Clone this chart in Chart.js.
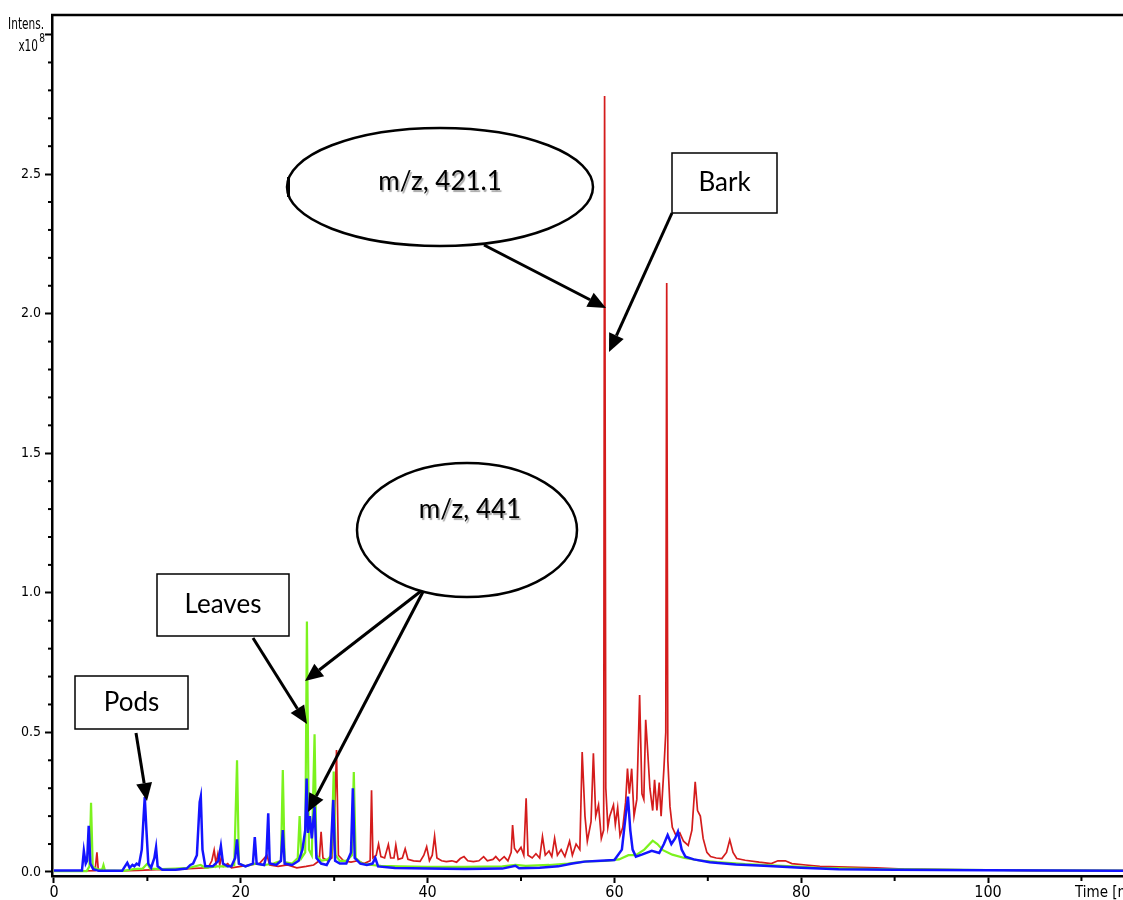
<!DOCTYPE html>
<html>
<head>
<meta charset="utf-8">
<title>Base peak chromatogram - bark, leaves, pods</title>
<script src="https://cdn.jsdelivr.net/npm/chart.js@4.4.1/dist/chart.umd.min.js"></script>
<style>
  html, body { margin: 0; padding: 0; background: #fff; }
  #wrap { width: 1123px; height: 900px; }
</style>
</head>
<body>
<div id="wrap"><canvas id="chrom" width="1123" height="900"></canvas></div>
<script>
// axis ranges: time in min, intensity in x10^8
const xRange = [-0.21, 114.45];
const yRange = [-0.0145, 3.07];
const xTickValues = [0, 10, 20, 30, 40, 50, 60, 70, 80, 90, 100, 110];
const xTickLabels = ["0", "", "20", "", "40", "", "60", "", "80", "", "100", ""];
const yTickLabels = ["0.0", "0.5", "1.0", "1.5", "2.0", "2.5"];

// [time, intensity]
const barkPoints = [
  [0, 0.004], [3.0, 0.004], [4.4, 0.005], [4.6, 0.07], [4.75, 0.005], [7.0, 0.004],
  [9.0, 0.006], [11.0, 0.008], [13.0, 0.008], [14.5, 0.012], [16.5, 0.015],
  [16.9, 0.04], [17.15, 0.078], [17.35, 0.03], [17.55, 0.065], [17.75, 0.025],
  [17.95, 0.06], [18.15, 0.02], [18.6, 0.03], [19.0, 0.015], [20.0, 0.02],
  [21.0, 0.025], [22.0, 0.03], [22.8, 0.06], [23.1, 0.025], [24.0, 0.02],
  [25.0, 0.025], [26.0, 0.015], [27.0, 0.02], [27.8, 0.025], [28.4, 0.04],
  [28.6, 0.144], [28.8, 0.05], [29.3, 0.04], [29.75, 0.05], [30.05, 0.2],
  [30.25, 0.437], [30.45, 0.06], [31.0, 0.04], [31.8, 0.035], [32.5, 0.04],
  [33.2, 0.03], [33.85, 0.04], [34.0, 0.293], [34.15, 0.05], [34.5, 0.06],
  [34.75, 0.1], [35.0, 0.055], [35.4, 0.05], [35.8, 0.098], [36.05, 0.05],
  [36.4, 0.05], [36.6, 0.096], [36.85, 0.045], [37.3, 0.05], [37.6, 0.083],
  [37.9, 0.045], [38.5, 0.04], [39.2, 0.038], [39.6, 0.06], [39.9, 0.09],
  [40.2, 0.04], [40.5, 0.06], [40.75, 0.128], [41.0, 0.05], [41.5, 0.04],
  [42.0, 0.037], [42.6, 0.04], [43.1, 0.035], [43.5, 0.048], [43.9, 0.055],
  [44.3, 0.04], [44.9, 0.037], [45.5, 0.04], [46.0, 0.055], [46.4, 0.04],
  [47.0, 0.045], [47.3, 0.055], [47.7, 0.04], [48.2, 0.055], [48.6, 0.04],
  [48.95, 0.07], [49.1, 0.168], [49.3, 0.085], [49.6, 0.07], [50.0, 0.088],
  [50.3, 0.06], [50.55, 0.264], [50.75, 0.06], [51.2, 0.05], [51.6, 0.065],
  [52.0, 0.05], [52.3, 0.127], [52.6, 0.06], [53.0, 0.075], [53.3, 0.055],
  [53.6, 0.12], [53.9, 0.06], [54.3, 0.08], [54.7, 0.055], [55.2, 0.11],
  [55.5, 0.06], [55.9, 0.1], [56.3, 0.08], [56.55, 0.43], [56.85, 0.2],
  [57.1, 0.11], [57.5, 0.18], [57.75, 0.425], [58.0, 0.2], [58.3, 0.24],
  [58.6, 0.12], [58.85, 0.15], [58.95, 2.78], [59.08, 0.3], [59.3, 0.16],
  [59.5, 0.2], [59.9, 0.24], [60.1, 0.17], [60.35, 0.23], [60.6, 0.13],
  [60.9, 0.16], [61.2, 0.25], [61.4, 0.37], [61.6, 0.28], [61.85, 0.37],
  [62.1, 0.2], [62.4, 0.26], [62.7, 0.634], [62.95, 0.28], [63.15, 0.26],
  [63.35, 0.545], [63.55, 0.44], [63.8, 0.3], [64.1, 0.22], [64.3, 0.33],
  [64.55, 0.22], [64.8, 0.32], [65.0, 0.2], [65.3, 0.37], [65.5, 0.5],
  [65.6, 2.11], [65.72, 0.4], [65.95, 0.234], [66.2, 0.16], [66.6, 0.13],
  [67.0, 0.14], [67.4, 0.11], [67.9, 0.095], [68.3, 0.15], [68.65, 0.323],
  [68.9, 0.22], [69.2, 0.2], [69.5, 0.12], [69.9, 0.07], [70.3, 0.055],
  [70.9, 0.05], [71.5, 0.048], [72.0, 0.07], [72.35, 0.115], [72.7, 0.07],
  [73.1, 0.048], [74.0, 0.042], [75.5, 0.035], [76.8, 0.03], [77.5, 0.04],
  [78.3, 0.04], [79.0, 0.03], [80.5, 0.025], [82.0, 0.02], [85.0, 0.017],
  [88.0, 0.015], [91.0, 0.01], [95.0, 0.008], [100, 0.007], [105, 0.005],
  [110, 0.005], [114.5, 0.005]
];

const leavesPoints = [
  [0, 0.003], [3.5, 0.003], [3.8, 0.02], [3.97, 0.248], [4.15, 0.02], [4.6, 0.01],
  [5.15, 0.008], [5.3, 0.025], [5.45, 0.006], [7.5, 0.004], [8.5, 0.01],
  [9.5, 0.012], [10.0, 0.03], [10.3, 0.012], [11.5, 0.01], [13.0, 0.012],
  [14.5, 0.015], [15.7, 0.025], [16.2, 0.015], [17.5, 0.02], [18.5, 0.02],
  [19.3, 0.025], [19.6, 0.40], [19.8, 0.03], [20.5, 0.02], [21.5, 0.03],
  [22.5, 0.025], [23.5, 0.03], [24.3, 0.04], [24.5, 0.365], [24.7, 0.035],
  [25.5, 0.03], [26.1, 0.05], [26.3, 0.2], [26.5, 0.05], [26.9, 0.07],
  [27.08, 0.897], [27.3, 0.08], [27.6, 0.06], [27.9, 0.493], [28.1, 0.06],
  [28.6, 0.04], [29.3, 0.045], [29.7, 0.06], [29.95, 0.36], [30.15, 0.06],
  [30.6, 0.04], [31.3, 0.04], [31.9, 0.06], [32.1, 0.358], [32.3, 0.05],
  [33.0, 0.03], [34.0, 0.025], [35.0, 0.022], [37.0, 0.02], [40.0, 0.018],
  [44.0, 0.018], [48.0, 0.02], [49.4, 0.025], [50.5, 0.022], [53.0, 0.025],
  [55.0, 0.03], [57.0, 0.038], [59.0, 0.04], [60.5, 0.045], [61.5, 0.06],
  [62.3, 0.06], [63.2, 0.08], [64.1, 0.112], [64.6, 0.1], [65.2, 0.078],
  [66.2, 0.062], [67.5, 0.05], [69.0, 0.042], [71.0, 0.035], [74.0, 0.028],
  [78.0, 0.022], [82.0, 0.015], [88.0, 0.01], [95.0, 0.008], [100, 0.007],
  [105, 0.006], [114.5, 0.005]
];

const podsPoints = [
  [0, 0.005], [3.0, 0.005], [3.2, 0.076], [3.4, 0.03], [3.55, 0.04], [3.72, 0.165],
  [3.9, 0.03], [4.2, 0.01], [4.8, 0.004], [7.3, 0.004], [7.6, 0.02], [7.85, 0.033],
  [8.1, 0.015], [8.4, 0.025], [8.6, 0.02], [8.85, 0.03], [9.1, 0.025], [9.4, 0.08],
  [9.6, 0.2], [9.72, 0.268], [9.9, 0.15], [10.1, 0.03], [10.4, 0.015],
  [10.75, 0.05], [10.93, 0.088], [11.1, 0.02], [11.6, 0.008], [13.0, 0.008],
  [14.2, 0.012], [14.6, 0.025], [14.9, 0.03], [15.3, 0.06], [15.6, 0.25],
  [15.72, 0.27], [15.9, 0.08], [16.2, 0.02], [17.0, 0.02], [17.6, 0.04],
  [17.87, 0.093], [18.1, 0.03], [18.6, 0.02], [19.0, 0.02], [19.4, 0.05],
  [19.6, 0.117], [19.8, 0.03], [20.5, 0.02], [21.3, 0.03], [21.5, 0.125],
  [21.7, 0.03], [22.5, 0.025], [22.75, 0.06], [22.94, 0.21], [23.1, 0.03],
  [23.8, 0.025], [24.3, 0.04], [24.5, 0.15], [24.7, 0.03], [25.5, 0.025],
  [26.2, 0.04], [26.6, 0.08], [26.9, 0.15], [27.05, 0.335], [27.2, 0.14],
  [27.4, 0.2], [27.6, 0.12], [27.9, 0.234], [28.1, 0.05], [28.6, 0.03],
  [29.2, 0.025], [29.6, 0.05], [29.9, 0.258], [30.1, 0.04], [30.6, 0.03],
  [31.3, 0.03], [31.8, 0.07], [32.0, 0.30], [32.2, 0.05], [32.8, 0.03],
  [33.5, 0.025], [34.1, 0.03], [34.4, 0.05], [34.7, 0.02], [36.5, 0.014],
  [40.0, 0.012], [44.0, 0.011], [48.0, 0.012], [49.4, 0.022], [49.8, 0.013],
  [52.0, 0.015], [54.0, 0.02], [55.5, 0.03], [56.8, 0.037], [58.5, 0.04],
  [60.0, 0.043], [60.8, 0.08], [61.2, 0.2], [61.45, 0.27], [61.7, 0.15],
  [61.95, 0.08], [62.3, 0.055], [63.0, 0.063], [64.0, 0.076], [64.8, 0.068],
  [65.3, 0.1], [65.7, 0.132], [66.1, 0.1], [66.5, 0.12], [66.8, 0.144],
  [67.2, 0.08], [67.6, 0.055], [68.5, 0.045], [70.2, 0.035], [73.0, 0.027],
  [76.0, 0.022], [80.0, 0.015], [84.0, 0.01], [90.0, 0.008], [100, 0.006],
  [114.5, 0.004]
];

const toXY = pts => pts.map(p => ({ x: p[0], y: p[1] }));
const isMajorY = v => Math.round(v * 10) % 5 === 0;
const isMajorX = v => Math.round(v) % 20 === 0;

// callouts drawn on top (pixel positions)
const ellipses = [
  { cx: 440, cy: 187, rx: 153, ry: 59, text: "m/z, 421.1", tx: 440, ty: 182 },
  { cx: 467, cy: 530, rx: 110, ry: 67, text: "m/z, 441", tx: 470, ty: 510 }
];
const boxes = [
  { x: 672, y: 153, w: 105, h: 60, text: "Bark" },
  { x: 157, y: 574, w: 132, h: 62, text: "Leaves" },
  { x: 75, y: 676, w: 113, h: 53, text: "Pods" }
];
const arrows = [
  [484, 245, 606, 308],
  [672, 213, 609, 352],
  [425, 588, 305, 681],
  [425, 588, 308, 812],
  [253, 638, 307, 724],
  [136, 733, 147, 801]
];

function drawArrow(ctx, x1, y1, x2, y2) {
  const a = Math.atan2(y2 - y1, x2 - x1);
  const len = 18, half = 8;
  const bx = x2 - len * Math.cos(a), by = y2 - len * Math.sin(a);
  ctx.beginPath();
  ctx.moveTo(x1, y1);
  ctx.lineTo(bx, by);
  ctx.stroke();
  ctx.beginPath();
  ctx.moveTo(x2, y2);
  ctx.lineTo(bx + half * Math.sin(a), by - half * Math.cos(a));
  ctx.lineTo(bx - half * Math.sin(a), by + half * Math.cos(a));
  ctx.closePath();
  ctx.fill();
}

const narrow = "'Liberation Sans Narrow', 'DejaVu Sans Condensed', sans-serif";
const calloutFont = "26px Lato, 'Open Sans', sans-serif";

// condensed text: squeeze horizontally around the right edge
function narrowText(ctx, text, xRight, y, size) {
  ctx.save();
  ctx.font = size + "px " + narrow;
  ctx.textAlign = "right";
  ctx.translate(xRight, y);
  ctx.scale(0.78, 1);
  ctx.fillText(text, 0, 0);
  ctx.restore();
}

const decorations = {
  id: "decorations",
  afterDraw(chart) {
    const ctx = chart.ctx;
    const area = chart.chartArea;
    const xs = chart.scales.x, ys = chart.scales.y;
    ctx.save();

    // top frame line
    ctx.strokeStyle = "#000";
    ctx.lineWidth = 2.5;
    ctx.beginPath();
    ctx.moveTo(area.left - 1, area.top);
    ctx.lineTo(chart.width, area.top);
    ctx.stroke();

    // minor ticks
    ctx.lineWidth = 2;
    xs.ticks.forEach(t => {
      if (isMajorX(t.value)) return;
      const px = xs.getPixelForValue(t.value);
      ctx.beginPath(); ctx.moveTo(px, area.bottom); ctx.lineTo(px, area.bottom + 5); ctx.stroke();
    });
    ys.ticks.forEach(t => {
      if (isMajorY(t.value)) return;
      const py = ys.getPixelForValue(t.value);
      ctx.beginPath(); ctx.moveTo(area.left, py); ctx.lineTo(area.left - 4, py); ctx.stroke();
    });

    // axis titles
    ctx.fillStyle = "#000";
    ctx.textBaseline = "alphabetic";
    narrowText(ctx, "Intens.", 44, 29, 15);
    narrowText(ctx, "x10", 38, 51, 15);
    narrowText(ctx, "8", 45, 42, 13);
    ctx.font = "15px " + narrow;
    ctx.textAlign = "left";
    ctx.fillText("Time [min]", area.right - 48, 897);

    // callouts
    ctx.strokeStyle = "#000";
    ctx.fillStyle = "#000";
    ctx.lineWidth = 3;
    arrows.forEach(a => drawArrow(ctx, a[0], a[1], a[2], a[3]));

    ellipses.forEach(e => {
      ctx.beginPath();
      ctx.ellipse(e.cx, e.cy, e.rx, e.ry, 0, 0, Math.PI * 2);
      ctx.fillStyle = "#fff";
      ctx.fill();
      ctx.lineWidth = 2.5;
      ctx.strokeStyle = "#000";
      ctx.stroke();
    });
    // small stray mark at left of first ellipse
    ctx.lineWidth = 3;
    ctx.beginPath(); ctx.moveTo(288.5, 177); ctx.lineTo(288.5, 197); ctx.stroke();

    boxes.forEach(b => {
      ctx.fillStyle = "#fff";
      ctx.fillRect(b.x, b.y, b.w, b.h);
      ctx.lineWidth = 1.5;
      ctx.strokeStyle = "#000";
      ctx.strokeRect(b.x, b.y, b.w, b.h);
    });

    ctx.font = calloutFont;
    ctx.textAlign = "center";
    ctx.textBaseline = "middle";
    ctx.fillStyle = "#000";
    boxes.forEach(b => ctx.fillText(b.text, b.x + b.w / 2, b.y + b.h / 2));
    ctx.shadowColor = "rgba(0,0,0,0.35)";
    ctx.shadowOffsetX = 1.5;
    ctx.shadowOffsetY = 1.5;
    ctx.shadowBlur = 1;
    ellipses.forEach(e => ctx.fillText(e.text, e.tx, e.ty));
    ctx.restore();
  }
};

new Chart(document.getElementById("chrom").getContext("2d"), {
  type: "line",
  data: {
    datasets: [
      { label: "Pods", data: toXY(podsPoints), borderColor: "#1414ff", borderWidth: 2.5 },
      { label: "Leaves", data: toXY(leavesPoints), borderColor: "#7cf21e", borderWidth: 2.2 },
      { label: "Bark", data: toXY(barkPoints), borderColor: "#d41c1c", borderWidth: 1.7 }
    ]
  },
  options: {
    responsive: false,
    animation: false,
    layout: { padding: { top: 15, right: 0, left: 0, bottom: 0 } },
    elements: { point: { radius: 0 }, line: { tension: 0 } },
    plugins: { legend: { display: false }, tooltip: { enabled: false } },
    scales: {
      x: {
        type: "linear",
        min: xRange[0],
        max: xRange[1],
        afterBuildTicks: s => { s.ticks = xTickValues.map(v => ({ value: v })); },
        afterFit: s => { s.height = 24; },
        border: { display: true, color: "#000", width: 2.5 },
        grid: {
          drawOnChartArea: false,
          drawTicks: true,
          tickLength: 7,
          tickWidth: 2,
          tickColor: c => (c.tick && isMajorX(c.tick.value)) ? "#000" : "rgba(0,0,0,0)"
        },
        ticks: {
          color: "#000",
          padding: 0,
          maxRotation: 0,
          autoSkip: false,
          font: { family: narrow, size: 16 },
          callback: (v, i) => xTickLabels[i]
        }
      },
      y: {
        type: "linear",
        min: yRange[0],
        max: yRange[1],
        afterBuildTicks: s => {
          const t = [];
          for (let i = 0; i <= 30; i++) t.push({ value: i / 10 });
          s.ticks = t;
        },
        afterFit: s => { s.width = 52; },
        border: { display: true, color: "#000", width: 2.5 },
        grid: {
          drawOnChartArea: false,
          drawTicks: true,
          tickLength: 7,
          tickWidth: 2,
          tickColor: c => (c.tick && isMajorY(c.tick.value)) ? "#000" : "rgba(0,0,0,0)"
        },
        ticks: {
          color: "#000",
          padding: 4,
          autoSkip: false,
          font: { family: narrow, size: 14 },
          callback: v => {
            const k = Math.round(v * 10);
            return (k % 5 === 0 && k < 30) ? yTickLabels[k / 5] : "";
          }
        }
      }
    }
  },
  plugins: [decorations]
});
</script>
</body>
</html>
